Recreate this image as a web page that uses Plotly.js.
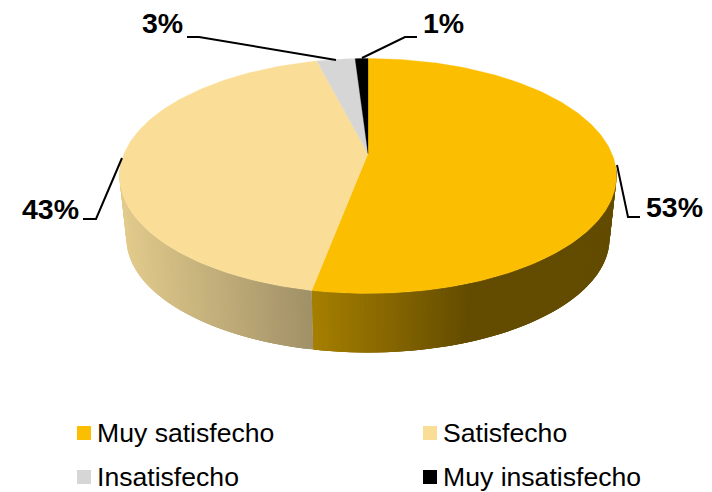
<!DOCTYPE html>
<html>
<head>
<meta charset="utf-8">
<script src="https://cdn.plot.ly/plotly-3.0.1.min.js"></script>
<style>html,body{margin:0;padding:0;background:#fff}#chart{width:712px;height:492px}</style>
</head>
<body>
<div id="chart"></div>
<script>
// Chart data
const categories = ['Muy satisfecho', 'Satisfecho', 'Insatisfecho', 'Muy insatisfecho'];
const values = [53, 43, 3, 1];
const colors = ['#FBBE00', '#FADD96', '#D6D6D6', '#000000'];
// Wall shading: [colour at gradient start, colour at gradient end] per slice
const wallShades = [
  {from: 313, to: 470, c0: [166, 127, 0], c1: [99, 76, 0]},
  {from: 120, to: 313, c0: [226, 203, 140], c1: [160, 144, 103]},
  null, null
];

// Pie projection (perspective view of a tilted disc)
const view = {cx: 368, cy: 153.5, a: 243.9, b: 113.2, k: 0.1915, vanishY: 2400, bottomScale: 0.972};
function topPoint(deg) {
  const t = deg * Math.PI / 180, u = Math.sin(t), v = Math.cos(t), w = 1 + view.k * v;
  return [view.cx + view.a * u / w, view.cy - view.b * v / w];
}
function bottomPoint(deg) {
  const p = topPoint(deg);
  return [view.cx + view.bottomScale * (p[0] - view.cx), view.vanishY + view.bottomScale * (p[1] - view.vanishY)];
}
function mix(s, x) {
  const f = Math.max(0, Math.min(1, (x - s.from) / (s.to - s.from)));
  const c = s.c0.map((c0, i) => Math.round(c0 + (s.c1[i] - c0) * f));
  return `rgb(${c.join(',')})`;
}

const total = values.reduce((a, b) => a + b, 0);
const traces = [];
const stepDeg = 0.75;
let start = 0;
const spans = values.map(v => { const s = [start, start + v / total * 360]; start = s[1]; return s; });

// Side walls, cut into narrow overlapping strips to carry the horizontal gradient
spans.forEach((sp, i) => {
  const shade = wallShades[i];
  if (!shade) return;
  for (let d = sp[0]; d < sp[1]; d += stepDeg) {
    const e = Math.min(d + stepDeg * 3, sp[1]);
    const mid = d + stepDeg / 2;
    if (Math.cos(mid * Math.PI / 180) > -0.1) continue;
    const a = topPoint(d), b = topPoint(e), c = bottomPoint(e), f = bottomPoint(d);
    const col = mix(shade, topPoint(mid)[0]);
    traces.push({type: 'scatter', mode: 'none', x: [a[0], b[0], c[0], f[0], a[0]], y: [a[1], b[1], c[1], f[1], a[1]],
      fill: 'toself', fillcolor: col, hoverinfo: 'skip', showlegend: false});
  }
});

// Top face slices
spans.forEach((sp, i) => {
  const xs = [view.cx], ys = [view.cy];
  const n = Math.max(4, Math.ceil((sp[1] - sp[0]) / 1));
  for (let j = 0; j <= n; j++) {
    const p = topPoint(sp[0] + (sp[1] - sp[0]) * j / n);
    xs.push(p[0]); ys.push(p[1]);
  }
  xs.push(view.cx); ys.push(view.cy);
  traces.push({type: 'scatter', mode: 'lines', x: xs, y: ys, fill: 'toself', fillcolor: colors[i],
    line: {color: colors[i], width: 0.3}, name: categories[i], hoverinfo: 'name', showlegend: false});
});

// Legend (two rows, two columns)
const legendX = [84, 430, 84, 430];
const legendY = [433, 433, 477, 477];
categories.forEach((c, i) => {
  traces.push({type: 'scatter', mode: 'markers', x: [legendX[i]], y: [legendY[i]],
    marker: {symbol: 'square', size: 14, color: colors[i]}, hoverinfo: 'skip', showlegend: false});
});
const legendNotes = categories.map((c, i) => ({
  x: legendX[i] + 11, y: legendY[i], xref: 'x', yref: 'y', text: c, showarrow: false,
  xanchor: 'left', yanchor: 'middle', font: {family: 'Liberation Sans, Arial, sans-serif', size: 26.6, color: '#000'}
}));

// Data labels with leader lines
const labelX = [674, 50, 162, 443];
const labelY = [207, 209, 23, 23];
const leaders = [
  'M640,217 L628,217 L617,165',
  'M83,219 L96,219 L122,158',
  'M187,37 L199,37 L336,60',
  'M417,37 L405,37 L362,58'
];
const labelNotes = values.map((v, i) => ({
  x: labelX[i], y: labelY[i], xref: 'x', yref: 'y', text: `<b>${v}%</b>`, showarrow: false,
  xanchor: 'center', yanchor: 'middle', font: {family: 'Liberation Sans, Arial, sans-serif', size: 28.5, color: '#000'}
}));
const shapes = leaders.map(p => ({type: 'path', path: p, xref: 'x', yref: 'y', line: {color: '#000', width: 2}}));

const axis = {visible: false, fixedrange: true, showgrid: false, zeroline: false};
Plotly.newPlot('chart', traces, {
  width: 712, height: 492, margin: {l: 0, r: 0, t: 0, b: 0}, showlegend: false,
  paper_bgcolor: '#fff', plot_bgcolor: '#fff',
  xaxis: Object.assign({range: [0, 712]}, axis),
  yaxis: Object.assign({range: [492, 0]}, axis),
  annotations: legendNotes.concat(labelNotes), shapes: shapes
}, {displayModeBar: false, staticPlot: true});
</script>
</body>
</html>
